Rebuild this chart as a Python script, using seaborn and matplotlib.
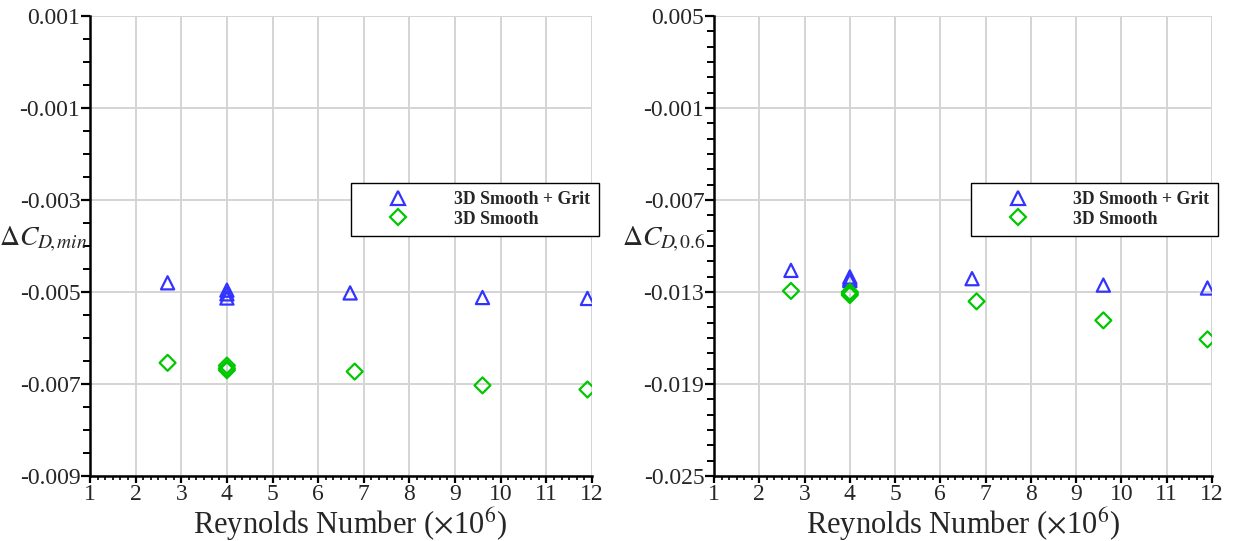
import numpy as np
import pandas as pd
import matplotlib
matplotlib.use("Agg")
import matplotlib.pyplot as plt
from matplotlib.lines import Line2D
from matplotlib.ticker import FixedLocator, MultipleLocator, AutoMinorLocator
import seaborn as sns

# ---- data -------------------------------------------------------------
series_names = ["3D Smooth + Grit", "3D Smooth"]

# Reynolds number (x1e6)
re_grit = [2.7, 4.0, 4.0, 4.0, 6.7, 9.6, 11.9]
re_smooth = [2.7, 4.0, 4.0, 4.0, 6.8, 9.6, 11.9]

# Delta C_D,min
dcd_min_grit = [-0.00480, -0.00496, -0.00504, -0.00513, -0.00502, -0.00512, -0.00514]
dcd_min_smooth = [-0.00654, -0.00660, -0.00666, -0.00670, -0.00673, -0.00703, -0.00712]

# Delta C_D,0.6
dcd_06_grit = [-0.01159, -0.01202, -0.01215, -0.01226, -0.01213, -0.01255, -0.01274]
dcd_06_smooth = [-0.01293, -0.01300, -0.01310, -0.01320, -0.01361, -0.01485, -0.01609]

x_ticks = list(range(1, 13))
x_tick_labels = [str(v) for v in x_ticks]

y_ticks_min = [0.001, -0.001, -0.003, -0.005, -0.007, -0.009]
y_labels_min = ["0.001", "-0.001", "-0.003", "-0.005", "-0.007", "-0.009"]
y_ticks_06 = [0.005, -0.001, -0.007, -0.013, -0.019, -0.025]
y_labels_06 = ["0.005", "-0.001", "-0.007", "-0.013", "-0.019", "-0.025"]

palette = {series_names[0]: "#3333FF", series_names[1]: "#00C800"}
markers = {series_names[0]: "^", series_names[1]: "D"}
sizes = {series_names[0]: 90, series_names[1]: 66}

# ---- style --------------------------------------------------------------
sns.set_theme(style="white")
plt.rcParams["font.family"] = ["Liberation Serif", "DejaVu Serif"]
plt.rcParams["mathtext.fontset"] = "stix"
plt.rcParams["axes.unicode_minus"] = False

fig = plt.figure(figsize=(12.39, 5.41), dpi=100)
ax_l = fig.add_axes([90 / 1239, 1 - 476 / 541, 502 / 1239, 460 / 541])
ax_r = fig.add_axes([714 / 1239, 1 - 476 / 541, 498 / 1239, 460 / 541])


def frame(re_a, ya, re_b, yb):
    return pd.concat([
        pd.DataFrame({"Re": re_a, "dCD": ya, "series": series_names[0]}),
        pd.DataFrame({"Re": re_b, "dCD": yb, "series": series_names[1]}),
    ], ignore_index=True)


def draw(ax, df, yticks, ylabels, ylim, minor_step, ylabel, label_x, xlabel_x):
    # open markers: draw with seaborn, then hollow out the faces
    for name in series_names:
        sub = df[df["series"] == name]
        sns.scatterplot(data=sub, x="Re", y="dCD", ax=ax, marker=markers[name],
                        s=sizes[name], color=palette[name], legend=False,
                        zorder=3)
        pts = ax.collections[-1]
        pts.set_facecolors("none")
        pts.set_edgecolors(palette[name])
        pts.set_linewidths(1.6)

    ax.set_xlim(1, 12)
    ax.set_ylim(*ylim)
    ax.xaxis.set_major_locator(FixedLocator(x_ticks))
    ax.set_xticklabels(x_tick_labels)
    ax.xaxis.set_minor_locator(AutoMinorLocator(6))
    ax.yaxis.set_major_locator(FixedLocator(yticks))
    ax.set_yticklabels(ylabels)
    ax.yaxis.set_minor_locator(MultipleLocator(minor_step))

    ax.grid(True, which="major", color="#d4d4d4", linewidth=1.4, zorder=0)
    ax.set_axisbelow(True)
    for side in ("top", "right"):
        ax.spines[side].set_visible(False)
    for side in ("left", "bottom"):
        ax.spines[side].set_color("black")
        ax.spines[side].set_linewidth(1.8)
        ax.spines[side].set_zorder(4)

    ax.tick_params(axis="y", which="major", direction="out", length=6.5,
                   width=1.6, color="black", labelsize=17, pad=0.5, left=True)
    ax.tick_params(axis="x", which="major", direction="out", length=5,
                   width=1.6, color="black", labelsize=17, pad=0.5, bottom=True)
    ax.tick_params(axis="y", which="minor", direction="out", length=5,
                   width=1.4, color="black", left=True)
    ax.tick_params(axis="x", which="minor", direction="out", length=3,
                   width=1.2, color="black", bottom=True)

    ax.set_xlabel(r"Reynolds Number ($\times$10$^6$)", fontsize=22, labelpad=0)
    ax.xaxis.label.set_x(xlabel_x)
    ax.set_ylabel(ylabel, fontsize=20, rotation=0, ha="right", va="center")
    ax.yaxis.set_label_coords(label_x, 0.515)

    handles = [Line2D([], [], linestyle="none", marker=markers[n],
                      markersize=np.sqrt(sizes[n]), markerfacecolor="none",
                      markeredgecolor=palette[n], markeredgewidth=1.6)
               for n in series_names]
    leg = ax.legend(handles, series_names, loc="upper right",
                    bbox_to_anchor=(1.013, 0.638), frameon=True, fancybox=False,
                    edgecolor="black", framealpha=1, borderpad=0.5,
                    handlelength=4.3, handletextpad=0.95, labelspacing=0.12,
                    borderaxespad=0, prop={"weight": "bold", "size": 12.8,
                                           "family": ["Liberation Serif"]})
    leg.get_frame().set_linewidth(1.0)


draw(ax_l, frame(re_grit, dcd_min_grit, re_smooth, dcd_min_smooth),
     y_ticks_min, y_labels_min, (-0.009, 0.001), 0.0005,
     r"$\Delta C_{D\!,min}$", -0.004, 0.518)
draw(ax_r, frame(re_grit, dcd_06_grit, re_smooth, dcd_06_smooth),
     y_ticks_06, y_labels_06, (-0.025, 0.005), 0.001,
     r"$\Delta C_{D\!,0.6}$", -0.016, 0.5)

fig.savefig("out.png", dpi=100)
